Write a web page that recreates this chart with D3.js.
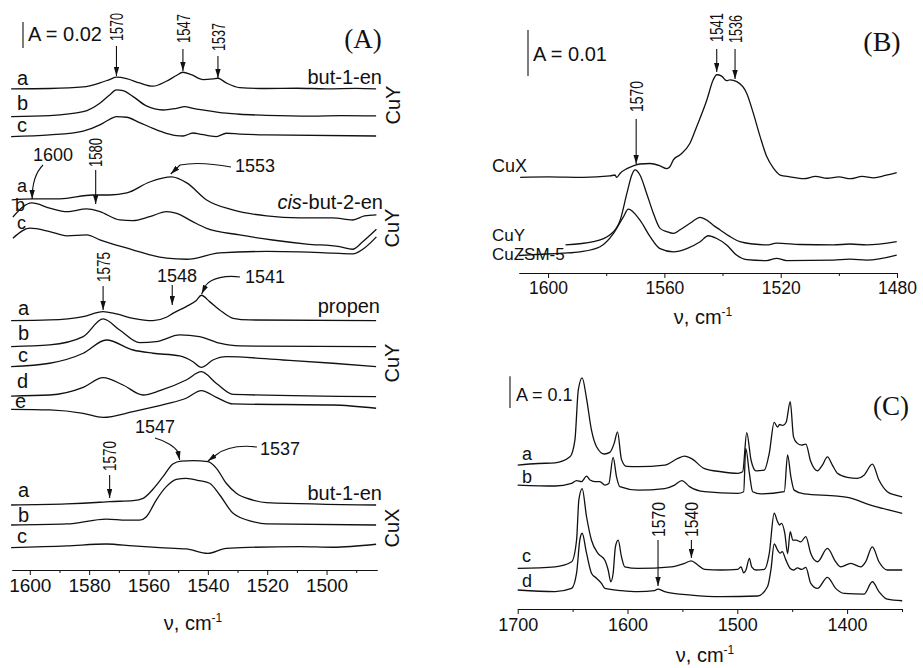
<!DOCTYPE html>
<html lang="en">
<head>
<meta charset="utf-8">
<title>IR spectra of adsorbed alkenes</title>
<script src="https://cdn.jsdelivr.net/npm/d3@7"></script>
<style>
  body { margin: 0; background: #fff; }
  svg { display: block; font-family: "Liberation Sans", Arial, sans-serif; }
  .spec { fill: none; stroke: #111; stroke-width: 1.3; }
  .ann { fill: none; stroke: #111; stroke-width: 1.1; }
</style>
</head>
<body>
<svg id="chart" width="923" height="668"></svg>
<script>
// ---- panel A data: [wavenumber, absorbance in 0.001 A above own baseline] ----
const butCuY_a = [[1606.3,0],[1593.3,0.3],[1582,1.5],[1576.4,4.6],[1573.1,7.2],[1570.8,9.0],[1567.4,7.9],[1563,4.6],[1558.5,2.1],[1554,5.9],[1550.6,10.3],[1548.4,12.8],[1545.6,11.0],[1541.6,7.2],[1538.3,7.7],[1536.6,8.2],[1533.8,4.6],[1529.3,1.0],[1520.3,0.3],[1510,0.5],[1500,0.1],[1490,0.4],[1483.3,0]];
const butCuY_b = [[1606.3,0],[1593.3,0.8],[1582,3.8],[1576.4,10.3],[1573.1,16.7],[1570.8,20.5],[1568.6,19.9],[1565.2,15.4],[1560.7,8.2],[1555.1,5.1],[1550.6,6.4],[1547.8,7.7],[1545,6.4],[1541.6,5.1],[1533.8,2.6],[1529.3,1.8],[1520.3,1.0],[1505,0.4],[1495,0.7],[1483.3,0.5]];
const butCuY_c = [[1606.3,-0.5],[1593.3,0.8],[1582,3.8],[1576.4,8.5],[1573.1,12.8],[1570.8,14.9],[1567.4,14.4],[1563,10.3],[1558.5,5.9],[1554,2.1],[1550.6,0.3],[1548.4,0],[1545,2.3],[1542.8,1.5],[1540,0.3],[1537.1,-0.5],[1533.8,2.1],[1529.3,1.5],[1520.3,0.8],[1483.3,0]];
const cisCuY_a = [[1606.1,0],[1599,0.8],[1589.9,0.8],[1578.8,3.8],[1573.1,3.8],[1567.3,5.4],[1559.6,13.8],[1552.2,17.7],[1547.1,13.1],[1540.4,0],[1531.6,-7.7],[1520.2,-12.3],[1509.1,-13.8],[1498,-13.8],[1491.2,-15.4],[1487.2,-12.3],[1483.2,-11.5]];
const cisCuY_b = [[1605.7,0],[1599.3,10.8],[1593.3,6.9],[1587.5,4.1],[1580.8,6.2],[1576.4,4.1],[1569.7,-2.3],[1565.3,-2.8],[1559.6,0.2],[1553.9,4.1],[1550.5,2.8],[1545.1,-3.6],[1540.4,-8.7],[1529.3,-13.8],[1518.2,-17.7],[1506.7,-20.8],[1495.6,-22.8],[1491.2,-24.8],[1487.9,-19.2],[1483.2,-9.5]];
const cisCuY_c = [[1605.7,0],[1600,7.7],[1593.3,5.1],[1587.5,1.8],[1580.8,2.5],[1576.4,-1.3],[1565.3,-9],[1559.6,-12.8],[1553.9,-15.4],[1547.1,-16.2],[1536,-11.3],[1520.2,-10.2],[1509.1,-10.5],[1498,-11.5],[1491.2,-12.1],[1487.2,-7.5],[1483.2,1]];
const propCuY_a = [[1606.3,0],[1593.3,0.5],[1582,3.1],[1575.3,6.9],[1570.8,5.1],[1565.2,1.8],[1558.5,0],[1554,2.6],[1551.8,5.6],[1547.3,10.8],[1543.9,15.5],[1542.2,19.5],[1539.4,14.6],[1536,8.2],[1531.5,1.8],[1525.9,0.5],[1483.3,0]];
const propCuY_b = [[1606.3,0],[1593.3,1.3],[1582,7.7],[1575.3,21.3],[1569.7,12.8],[1563,3.1],[1557.4,3.8],[1549.5,9.0],[1542.8,7.7],[1536,2.6],[1529.3,0.5],[1483.3,0]];
const propCuY_c = [[1606.3,0],[1593.3,2.6],[1582,10.3],[1574.2,20.5],[1565.2,12.8],[1558.5,10.3],[1549.5,8.2],[1545,3.8],[1542.2,-0.5],[1538.3,5.1],[1533.8,7.7],[1514.7,5.1],[1497.9,2.6],[1483.3,0]];
const propCuY_d = [[1606.3,0],[1593.3,0.8],[1582,6.7],[1575.3,14.1],[1568.6,8.5],[1561.8,0.8],[1556.2,4.1],[1547.3,12.3],[1542.2,18.7],[1537.1,9.7],[1531.5,1.3],[1483.3,-0.5]];
const propCuY_e = [[1606.3,0],[1593.3,-0.5],[1582,-3.1],[1575.3,-6.2],[1565.2,-1.8],[1554,4.1],[1547.3,8.5],[1542.2,14.4],[1537.1,9.2],[1531.5,4.1],[1497.9,3.3],[1483.3,0.8]];
const butCuX_a = [[1606.3,0],[1587.6,0.8],[1576.4,2.1],[1573.1,2.6],[1565.2,3.3],[1561.8,5.1],[1558.5,12.1],[1555.1,21.8],[1551.8,31.5],[1549,33.8],[1545,34.1],[1540,33.3],[1537.1,28.2],[1533.8,16.7],[1530.4,9.0],[1524.8,3.8],[1520.3,1.8],[1483.3,0]];
const butCuX_b = [[1606.3,0],[1587.6,0.8],[1574.2,4.6],[1567.4,3.8],[1563,3.8],[1560.7,6.4],[1557.4,19.2],[1554,29.5],[1550.6,35.1],[1547.3,35.9],[1542.8,34.1],[1539.4,32.1],[1536,23.1],[1531.5,9.0],[1524.8,2.6],[1520.3,0.8],[1483.3,0]];
const butCuX_c = [[1606.3,0],[1587.6,1.3],[1574.2,2.8],[1565.2,1.3],[1556.2,0],[1547.3,-1.0],[1540,-4.4],[1533.8,-0.5],[1509.1,0.8],[1497.9,0.3],[1483.3,2.6]];
// stacking offsets (0.001 A)
const offButCuY = [370, 348.7, 333.8];
const offCisCuY = [284.6, 271.5, 255.2];
const offPropCuY = [191.8, 171.8, 156.4, 133.8, 123.6];
const offButCuX = [50, 34.6, 17.2];

// ---- panel B data (0.001 A) ----
const specCuX = [[1609.6,0],[1600,0.1],[1587.9,0],[1578.7,0.3],[1577,0.5],[1576.4,0],[1575.2,0.9],[1572.9,1.9],[1570.7,2.5],[1568.4,2.9],[1564.9,3.0],[1561.5,2.5],[1559.2,1.9],[1558.1,2.3],[1556.9,3.8],[1554.6,4.9],[1551.2,7.4],[1548.9,11.0],[1545.4,16.8],[1543.2,21.2],[1542,22.3],[1540.3,22.0],[1538.6,21.0],[1537.4,21.2],[1535.1,20.8],[1531.7,18.3],[1529.4,13.9],[1527.1,8.9],[1524.8,4.5],[1522.5,2.0],[1520.2,0.5],[1516.8,0.1],[1512,-0.3],[1508,0.2],[1504,-0.2],[1500,0.1],[1496,-0.3],[1492,0.2],[1488,-0.1],[1484,0.4],[1480.1,1.0]];
const specCuY = [[1594,0],[1584.4,0.7],[1578.7,2.2],[1575.2,5.4],[1572.9,11.2],[1571.2,15.2],[1570.1,16.3],[1568.4,15.2],[1566.1,11.2],[1563.8,6.9],[1561.5,3.6],[1559.2,2.9],[1556.9,2.5],[1554.6,3.3],[1551.2,4.7],[1547.7,6.0],[1545.4,5.4],[1543.2,4.3],[1540.9,3.3],[1537.4,1.8],[1534,0.7],[1529.4,0.2],[1524.8,0],[1521.4,0.4],[1513.3,0.1],[1501.9,0],[1496.2,0.2],[1490.4,0],[1480.1,0.7]];
const specZSM = [[1610,1.0],[1605,1.2],[1595,1.5],[1589,1.8],[1582.1,2.9],[1577.5,5.8],[1574.1,9.4],[1572.4,11.1],[1568.4,8.7],[1564.9,5.1],[1561.5,2.5],[1556.9,1.8],[1552.3,2.5],[1547.7,4.0],[1544.9,5.3],[1542,4.7],[1538.6,3.3],[1535.2,1.1],[1531.7,0.1],[1524.8,-0.1],[1521.4,0.4],[1518,-0.1],[1501.9,0],[1496.2,0.2],[1490.4,0],[1480.1,1.1]];
const offB = [20.8, 6.1, 2.8];

// ---- panel C data (A) ----
const specC_a = [[1700,0],[1681.2,0.005],[1666,0.007],[1652.4,0.026],[1647.9,0.079],[1644.8,0.237],[1641.3,0.275],[1637.3,0.210],[1632.8,0.110],[1628.2,0.058],[1621,0.035],[1616.1,0.040],[1612,0.070],[1609.1,0.105],[1605.5,0.018],[1601,-0.004],[1590.4,-0.005],[1566.2,0],[1554.1,0.021],[1548.1,0.028],[1542,0.021],[1529.9,-0.011],[1514.7,-0.021],[1499.6,-0.026],[1495.1,-0.021],[1491.4,0.102],[1487.5,0.016],[1483,-0.018],[1475.4,-0.016],[1470.9,0.037],[1466.4,0.135],[1463.3,0.120],[1461.5,0.128],[1458.5,0.125],[1455.5,0.135],[1451.8,0.200],[1448.8,0.089],[1445.8,0.070],[1441.5,0.063],[1437.6,0.066],[1433.1,0.011],[1427,-0.018],[1422.5,0],[1417.9,0.026],[1413.4,0],[1408.8,-0.026],[1399.8,-0.039],[1390.7,-0.042],[1384.6,-0.032],[1377,0.003],[1371,-0.047],[1363.4,-0.084],[1355.8,-0.095],[1349.8,-0.100]];
const specC_b = [[1700,0],[1666,-0.003],[1650.9,0.005],[1646.4,0.014],[1641.8,0.011],[1637.3,0.028],[1634.2,0.016],[1629.7,0.011],[1625.2,0.011],[1620.6,0],[1617,0.005],[1613.1,0.087],[1610,0.026],[1607,-0.005],[1590.4,-0.016],[1566.2,-0.011],[1557.1,0],[1550.5,0.014],[1543.5,-0.005],[1529.9,-0.021],[1499.6,-0.026],[1494.2,-0.021],[1492.3,0.116],[1489,0.037],[1486,-0.021],[1478.4,-0.028],[1457.2,-0.021],[1454.2,0.095],[1451.2,0.026],[1448.2,-0.016],[1439.1,-0.028],[1408.8,-0.035],[1399.8,-0.039],[1378.6,-0.063],[1349.8,-0.089]];
const specC_c = [[1700,0],[1666,0.005],[1650.9,0.021],[1646.4,0.089],[1644.3,0.216],[1641.3,0.252],[1637.3,0.163],[1632.8,0.089],[1626.7,0.047],[1620.6,0.026],[1617.6,-0.005],[1615.2,-0.042],[1613.1,-0.016],[1611,0.068],[1608.5,0.089],[1605.5,0.037],[1602.5,0.005],[1590.4,0],[1560.2,0.005],[1548.1,0.016],[1542,0.024],[1536,0.011],[1529.9,-0.003],[1514.7,-0.005],[1499.6,-0.003],[1496.6,0.005],[1494.2,-0.014],[1492.1,-0.005],[1489,0.032],[1486.9,0.005],[1483,-0.005],[1475.4,-0.003],[1470.9,0.047],[1466.4,0.174],[1463.3,0.147],[1461.5,0.137],[1459.7,0.142],[1456.7,0.110],[1454.2,0.047],[1451.8,0.116],[1449.4,0.089],[1446.4,0.089],[1442.2,0.084],[1437.6,0.100],[1433.1,0.047],[1427,0.021],[1417.9,0.063],[1410.4,0.021],[1405.8,0.005],[1396.7,0.016],[1387.6,0.005],[1383.1,0.021],[1377,0.068],[1371,0.021],[1363.4,-0.005],[1349.8,-0.005]];
const specC_d = [[1700,0],[1666,-0.005],[1650.9,0.005],[1646.4,0.053],[1643.4,0.158],[1641.3,0.179],[1637.3,0.116],[1632.8,0.053],[1628.2,0.037],[1623.7,0.021],[1620.6,0.005],[1605.5,-0.002],[1590.4,-0.005],[1575.3,-0.002],[1572.3,0.003],[1566.2,-0.005],[1542,-0.016],[1514.7,-0.021],[1481.5,-0.019],[1472.4,0.011],[1469.4,0.063],[1466.4,0.145],[1463.3,0.126],[1460.9,0.116],[1459.1,0.121],[1455.8,0.095],[1451.8,0.068],[1448.8,0.063],[1445.2,0.070],[1441.5,0.065],[1437.6,0.071],[1433.1,0.021],[1427,0.005],[1417.9,0.040],[1410.4,0.005],[1402.8,-0.011],[1384.6,-0.013],[1377,0.026],[1371,-0.005],[1363.4,-0.029],[1349.8,-0.034]];
const offC = [0.454, 0.391, 0.128, 0.060];

const ticksA = [1600, 1580, 1560, 1540, 1520, 1500];
const minorA = [1590, 1570, 1550, 1530, 1510, 1490];
const ticksB = [1600, 1560, 1520, 1480];
const minorB = [1580, 1540, 1500];
const ticksC = [1700, 1600, 1500, 1400];
const minorC = [1650, 1550, 1450, 1350];

const svg = d3.select('#chart');
svg.append('rect').attr('width', 923).attr('height', 668).attr('fill', '#fff');

svg.append('defs').append('marker')
    .attr('id', 'head')
    .attr('viewBox', '0 0 10 6')
    .attr('refX', 10).attr('refY', 3)
    .attr('markerWidth', 9).attr('markerHeight', 5.4)
    .attr('markerUnits', 'userSpaceOnUse')
    .attr('orient', 'auto')
  .append('path').attr('d', 'M0,0L10,3L0,6Z').attr('fill', '#111');

const xA = d3.scaleLinear().domain([1606, 1483]).range([12, 377]);
const yA = d3.scaleLinear().domain([0, 423]).range([570, 20]);
const xB = d3.scaleLinear().domain([1610, 1480]).range([519, 897]);
const yB = d3.scaleLinear().domain([0, 55]).range([273, 20]);
const xC = d3.scaleLinear().domain([1700, 1350]).range([517.7, 902]);
const yC = d3.scaleLinear().domain([0, 0.9]).range([609, 323.7]);

function drawSet(series, offsets, x, y) {
  series.forEach((s, i) => {
    const line = d3.line()
        .x(d => x(d[0]))
        .y(d => y(d[1] + offsets[i]))
        .curve(d3.curveMonotoneX);
    svg.append('path').datum(s).attr('class', 'spec').attr('d', line);
  });
}

drawSet([butCuY_a, butCuY_b, butCuY_c], offButCuY, xA, yA);
drawSet([cisCuY_a, cisCuY_b, cisCuY_c], offCisCuY, xA, yA);
drawSet([propCuY_a, propCuY_b, propCuY_c, propCuY_d, propCuY_e], offPropCuY, xA, yA);
drawSet([butCuX_a, butCuX_b, butCuX_c], offButCuX, xA, yA);
drawSet([specCuX, specCuY, specZSM], offB, xB, yB);
drawSet([specC_a, specC_b, specC_c, specC_d], offC, xC, yC);

function axis(x, yPos, majors, minors, size) {
  svg.append('g')
      .attr('transform', `translate(0,${yPos})`)
      .call(d3.axisBottom(x).tickValues(minors).tickSize(3).tickSizeOuter(0).tickFormat(''));
  const g = svg.append('g')
      .attr('transform', `translate(0,${yPos})`)
      .call(d3.axisBottom(x).tickValues(majors).tickSize(5).tickSizeOuter(0).tickPadding(4).tickFormat(d3.format('d')));
  g.attr('font-size', size).attr('font-family', null);
  svg.selectAll('.domain, .tick line').attr('stroke', '#111');
  g.selectAll('text').attr('fill', '#111');
}
axis(xA, 570, ticksA, minorA, 19);
axis(xB, 273, ticksB, minorB, 17.5);
axis(xC, 609, ticksC, minorC, 18);

function axisTitle(xc, yb, size) {
  const t = svg.append('text').attr('x', xc).attr('y', yb)
      .attr('text-anchor', 'middle').attr('font-size', size).attr('fill', '#111');
  t.append('tspan').text('ν, cm');
  t.append('tspan').attr('dy', -8).attr('font-size', size * 0.6).text('-1');
}
axisTitle(193, 630, 20);
axisTitle(703, 324, 20);
axisTitle(705, 662, 20);

function txt(x, y, s, size, anchor) {
  return svg.append('text').attr('x', x).attr('y', y).attr('font-size', size)
      .attr('text-anchor', anchor || 'start').attr('fill', '#111').text(s);
}
function vtxt(x, y, s, size, anchor, len) {
  const t = svg.append('text')
      .attr('transform', `translate(${x},${y}) rotate(-90)`)
      .attr('dy', '0.35em').attr('font-size', size)
      .attr('text-anchor', anchor).attr('fill', '#111').text(s);
  if (len) t.attr('textLength', len).attr('lengthAdjust', 'spacingAndGlyphs');
  return t;
}
function arrow(x, y1, y2) {
  svg.append('line').attr('class', 'ann')
      .attr('x1', x).attr('x2', x).attr('y1', y1).attr('y2', y2)
      .attr('marker-end', 'url(#head)');
}
function curvedArrow(d) {
  svg.append('path').attr('class', 'ann').attr('d', d).attr('marker-end', 'url(#head)');
}
function scaleBar(x, yBottom, y, amount) {
  svg.append('line').attr('class', 'ann')
      .attr('x1', x).attr('x2', x)
      .attr('y1', yBottom).attr('y2', yBottom - (y(0) - y(amount)));
}

// panel A labels
scaleBar(23, 48, yA, 20);
txt(28, 41, 'A = 0.02', 20);
txt(363, 48, '(A)', 27, 'middle').attr('font-family', '"Liberation Serif", "Times New Roman", serif');

// peak markers (wavenumber, label, text bottom, arrow from, arrow to, text length)
const peaksA = [[1570.8, '1570', 41, 46, 76, 28], [1548.4, '1547', 43, 49, 71, 29], [1536.6, '1537', 51, 56, 78, 28],
                [1577.8, '1580', 167, 170, 204, 29], [1575.3, '1575', 282, 286, 310, 30], [1573.1, '1570', 471, 475, 498, 30]];
peaksA.forEach(p => { vtxt(xA(p[0]), p[2], p[1], 19, 'start', p[5]); arrow(xA(p[0]), p[3], p[4]); });
const peaksB = [[1542, '1541', 42, 49, 72, 29], [1535.7, '1536', 43, 49, 79, 28], [1569.7, '1570', 112, 119, 164, 31]];
peaksB.forEach(p => { vtxt(xB(p[0]), p[2], p[1], 19, 'start', p[5]); arrow(xB(p[0]), p[3], p[4]); });
const peaksC = [[1572.2, '1570', 537, 540, 586, 35], [1541.8, '1540', 537, 540, 558, 35]];
peaksC.forEach(p => { vtxt(xC(p[0]), p[2], p[1], 19, 'start', p[5]); arrow(xC(p[0]), p[3], p[4]); });

// horizontal peak labels with bent arrows
txt(53, 161, '1600', 18, 'middle');
curvedArrow(`M43,165 Q32,176 ${xA(1599.2)},199`);
txt(235, 172, '1553', 18);
curvedArrow(`M231,167 C215,164 195,162 180,165 L${xA(1552.5)},174`);
txt(177, 282, '1548', 18, 'middle');
arrow(xA(1552), 285, 305);
txt(245, 283, '1541', 18);
curvedArrow(`M240,277 C226,275 212,278 206,285 L${xA(1542.1)},294`);
txt(135, 433, '1547', 18);
curvedArrow(`M155,438 C166,441 175,447 178,452 L${xA(1549.5)},460`);
txt(260, 455, '1537', 18);
curvedArrow(`M257,447 C240,445 225,448 216,455 L${xA(1540)},461`);

// sample names
txt(382, 84, 'but-1-en', 20, 'end');
const cis = txt(383, 209, '', 20, 'end');
cis.append('tspan').attr('font-style', 'italic').text('cis');
cis.append('tspan').text('-but-2-en');
txt(380, 313, 'propen', 20, 'end');
txt(382, 500, 'but-1-en', 20, 'end');
vtxt(393, 105, 'CuY', 20, 'middle');
vtxt(392, 228, 'CuY', 20, 'middle');
vtxt(392, 363, 'CuY', 20, 'middle');
vtxt(392, 528, 'CuX', 20, 'middle');

// curve letters (letter, x, baseline, size)
const lettersA = [['a', 17, 85, 20], ['b', 17, 110, 20], ['c', 17, 132, 20],
                  ['a', 17, 192, 18], ['b', 15, 211, 18], ['c', 17, 229, 18],
                  ['a', 18, 315, 20], ['b', 18, 340, 20], ['c', 18, 362, 20], ['d', 17, 388, 20], ['e', 15, 408, 20],
                  ['a', 18, 497, 20], ['b', 18, 522, 20], ['c', 17, 543, 20]];
lettersA.forEach(l => txt(l[1], l[2], l[0], l[3]));

// panel B labels
scaleBar(528, 76, yB, 10);
txt(533, 61, 'A = 0.01', 20);
txt(882, 51, '(B)', 28, 'middle').attr('font-family', '"Liberation Serif", "Times New Roman", serif');
txt(492, 172, 'CuX', 18);
txt(492, 241, 'CuY', 17);
txt(492, 260, 'CuZSM-5', 17);

// panel C labels
scaleBar(510, 408, yC, 0.1);
txt(516, 401, 'A = 0.1', 18);
txt(891, 415, '(C)', 27, 'middle').attr('font-family', '"Liberation Serif", "Times New Roman", serif');
const lettersC = [['a', 522, 460], ['b', 522, 483], ['c', 522, 562], ['d', 522, 587]];
lettersC.forEach(l => txt(l[1], l[2], l[0], 18));
</script>
</body>
</html>
